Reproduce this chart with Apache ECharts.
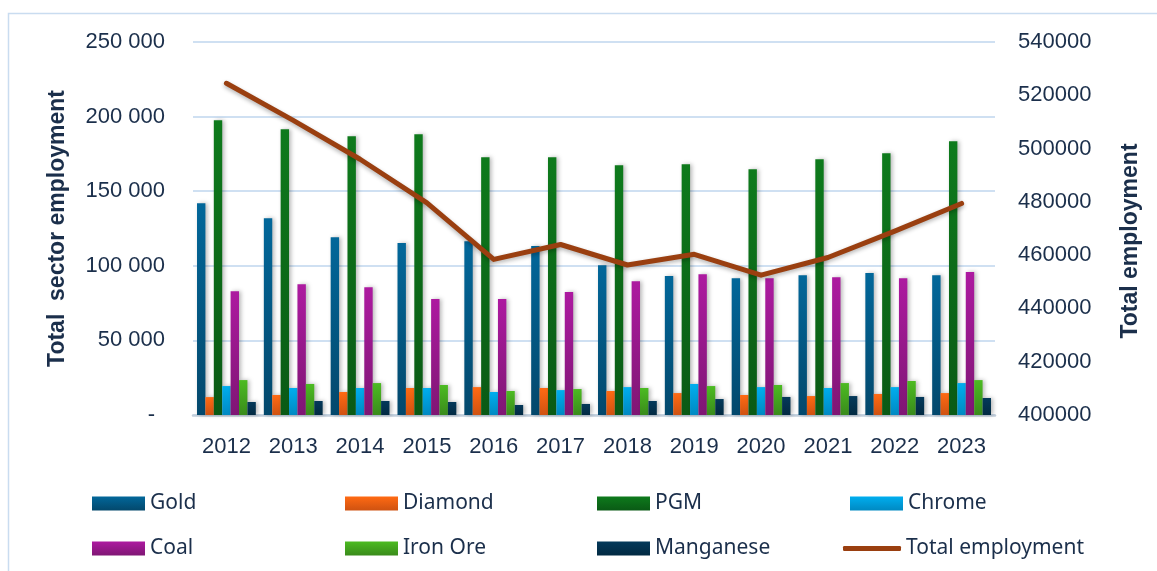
<!DOCTYPE html>
<html>
<head>
<meta charset="utf-8">
<script src="https://cdn.jsdelivr.net/npm/echarts@6/dist/echarts.min.js"></script>
<style>
html,body{margin:0;padding:0;background:#fff;}
#c{width:1157px;height:571px;}
</style>
</head>
<body>
<div id="c"></div>
<script>
const years = ['2012','2013','2014','2015','2016','2017','2018','2019','2020','2021','2022','2023'];
const gold      = [142000,131900,119200,115200,116500,113200,100400, 93100, 91700, 93700, 95100, 93700];
const diamond   = [ 12000, 13400, 15400, 18100, 18700, 18100, 16100, 14700, 13400, 12700, 14100, 14700];
const pgm       = [197500,191500,186800,188200,172800,172800,167400,168100,164700,171400,175400,183500];
const chrome    = [ 19400, 18100, 18100, 18100, 15400, 16700, 18700, 20800, 18700, 18100, 18700, 21400];
const coal      = [ 83000, 87700, 85700, 77700, 77700, 82400, 89700, 94400, 91700, 92400, 91700, 95800];
const ironOre   = [ 23400, 20800, 21400, 20100, 16100, 17400, 18100, 19400, 20100, 21400, 22800, 23400];
const manganese = [  8700,  9400,  9400,  8700,  6700,  7400,  9400, 10700, 12100, 12700, 12100, 11400];
const totalEmployment = [524500,510600,496000,479600,458400,464000,456300,460300,452500,459100,469000,479400];
const leftTicks = [0,50000,100000,150000,200000,250000];
const rightTicks = [400000,420000,440000,460000,480000,500000,520000,540000];

const textColor = '#1b2f4b';
const baseFont = 'Liberation Sans, Arial, sans-serif';
function grad(a,b){return new echarts.graphic.LinearGradient(0,0,0,1,[{offset:0,color:a},{offset:1,color:b}]);}
const barDefs = [
  ['Gold', gold, '#02679a', '#03486c'],
  ['Diamond', diamond, '#ff6a13', '#cf5211'],
  ['PGM', pgm, '#0e7a1c', '#0a5a15'],
  ['Chrome', chrome, '#00aeef', '#0089c2'],
  ['Coal', coal, '#ad1aa0', '#7f1674'],
  ['Iron Ore', ironOre, '#4cbb22', '#3a8b1b'],
  ['Manganese', manganese, '#04395a', '#022a42']
];
const series = barDefs.map(d => ({
  name: d[0], type: 'bar', data: d[1], yAxisIndex: 0,
  barGap: '0%', barCategoryGap: '12%',
  itemStyle: {color: grad(d[2], d[3]), shadowBlur: 4, shadowColor: 'rgba(0,0,0,0.28)', shadowOffsetX: 2, shadowOffsetY: 0},
  z: 2
}));
series.push({
  name: 'Total employment', type: 'line', data: totalEmployment, yAxisIndex: 1,
  symbol: 'none', smooth: false,
  lineStyle: {color: '#9a3f10', width: 5, cap: 'round', join: 'round', shadowBlur: 4, shadowColor: 'rgba(0,0,0,0.3)', shadowOffsetY: 2},
  itemStyle: {color: '#9a3f10'},
  z: 5
});

const legendPos = [
  ['Gold', 92, 493], ['Diamond', 345, 493], ['PGM', 597, 493], ['Chrome', 850, 493],
  ['Coal', 92, 538], ['Iron Ore', 345, 538], ['Manganese', 597, 538], ['Total employment', 843, 538]
];
const legends = legendPos.map(p => {
  const isLine = p[0] === 'Total employment';
  return {
    data: [p[0]], left: p[1], top: p[2], padding: 0,
    itemWidth: isLine ? 58 : 53, itemHeight: isLine ? 5 : 14,
    icon: isLine ? 'roundRect' : 'rect',
    itemGap: 0, selectedMode: false,
    textStyle: {color: textColor, fontSize: 21, lineHeight: 14, fontFamily: 'Noto Sans, Open Sans, sans-serif', padding: [0,0,4,0]}
  };
});

const chart = echarts.init(document.getElementById('c'), null, {renderer: 'canvas'});
chart.setOption({
  animation: false,
  backgroundColor: '#fff',
  graphic: [
    {type: 'rect', shape: {x: 8.5, y: 13.5, width: 1200, height: 700}, style: {fill: 'none', stroke: '#c9dcf0', lineWidth: 1.5}, z: -10},
    {type: 'text', x: 1131, y: 241, rotation: Math.PI / 2,
     style: {text: 'Total employment', fill: textColor, fontSize: 23, fontWeight: 'bold', fontFamily: baseFont, textAlign: 'center', textVerticalAlign: 'middle'}}
  ],
  grid: {left: 193, right: 162, top: 42, bottom: 156, containLabel: false},
  legend: legends,
  xAxis: {
    type: 'category', data: years,
    axisLine: {show: true, lineStyle: {color: '#c3cfdc', width: 2.5}},
    axisTick: {show: false},
    axisLabel: {color: textColor, fontSize: 22, fontFamily: baseFont, margin: 21}
  },
  yAxis: [{
    type: 'value', min: 0, max: 250000, interval: 50000, position: 'left',
    name: 'Total  sector employment', nameLocation: 'middle', nameGap: 124, nameRotate: 90,
    nameTextStyle: {color: textColor, fontSize: 23, fontWeight: 'bold', fontFamily: baseFont},
    axisLine: {show: false}, axisTick: {show: false},
    splitLine: {lineStyle: {color: '#cfe0f2', width: 2}},
    axisLabel: {
      color: textColor, fontSize: 22, fontFamily: baseFont, margin: 28,
      formatter: v => leftTicks.indexOf(v) < 0 ? '' : (v === 0 ? '{d|-}' : String(v).replace(/\B(?=(\d{3})+(?!\d))/g, ' ')),
      rich: {d: {color: textColor, fontSize: 22, fontFamily: baseFont, padding: [0, 10, 0, 0]}}
    }
  }, {
    type: 'value', min: 400000, max: 540000, interval: 20000, position: 'right',
    axisLine: {show: false}, axisTick: {show: false}, splitLine: {show: false},
    axisLabel: {color: textColor, fontSize: 22, fontFamily: baseFont, margin: 23,
      formatter: v => rightTicks.indexOf(v) < 0 ? '' : String(v)}
  }],
  series: series
});
</script>
</body>
</html>
